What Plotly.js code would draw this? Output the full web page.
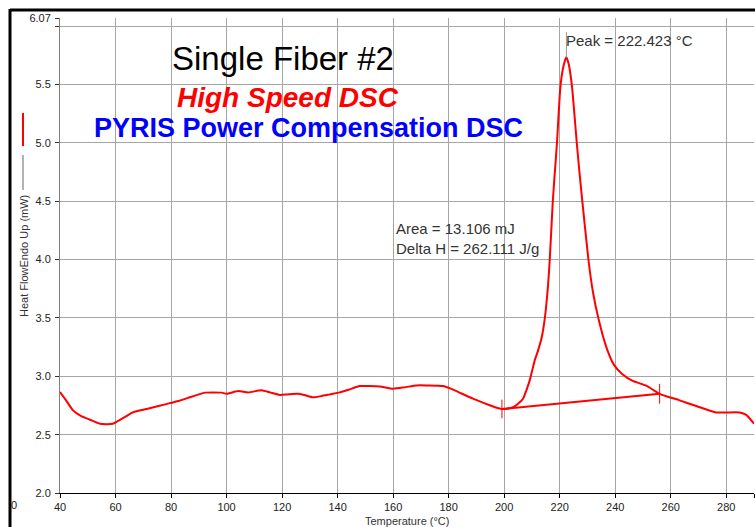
<!DOCTYPE html>
<html>
<head>
<meta charset="utf-8">
<script src="https://cdn.plot.ly/plotly-3.0.1.min.js"></script>
<style>html,body{margin:0;padding:0;background:#fff;}#chart{width:755px;height:527px;}</style>
</head>
<body>
<div id="chart"></div>
<script>
// ---- data ----
var temperature = [40, 42, 44.7, 47.5, 50.8, 54.4, 57, 59, 60.4, 63, 66.4, 71.2, 75.5, 79.6, 83, 86.8, 90, 92.2, 95, 98.2, 100, 104.2, 107.8, 112.6, 115.6, 119.2, 122, 125.8, 128, 131.2, 134, 137.2, 140.8, 144, 148, 151, 155.2, 160, 164, 168.4, 172, 178, 182.8, 185.8, 188.8, 191.2, 194.8, 197, 199.2, 201, 203.2, 205, 206.8, 208, 209.2, 211, 212.2, 213.5, 214.6, 215.6, 216.4, 217.5, 218.2, 219.0, 220.3, 221.4, 222.4, 223.3, 224.4, 226.2, 227.2, 228.2, 230.4, 232, 234, 236.8, 239.5, 242.5, 246.3, 251.2, 256, 263.2, 269.2, 276.4, 280, 284.8, 287.2, 290];
var heatFlow = [2.865, 2.80, 2.708, 2.66, 2.628, 2.594, 2.59, 2.594, 2.61, 2.645, 2.693, 2.72, 2.745, 2.77, 2.79, 2.82, 2.845, 2.86, 2.862, 2.86, 2.85, 2.873, 2.862, 2.88, 2.862, 2.84, 2.845, 2.85, 2.84, 2.82, 2.83, 2.845, 2.862, 2.885, 2.916, 2.916, 2.913, 2.894, 2.905, 2.922, 2.922, 2.916, 2.873, 2.84, 2.808, 2.785, 2.752, 2.733, 2.72, 2.722, 2.736, 2.765, 2.808, 2.88, 2.965, 3.136, 3.22, 3.33, 3.49, 3.72, 3.99, 4.49, 4.73, 4.99, 5.49, 5.66, 5.733, 5.67, 5.49, 4.99, 4.73, 4.49, 3.99, 3.72, 3.49, 3.25, 3.10, 3.02, 2.96, 2.92, 2.85, 2.794, 2.745, 2.69, 2.69, 2.69, 2.67, 2.594];
var baselineT = [199.2, 256];
var baselineHF = [2.72, 2.851];
var startTickT = [199.2, 199.2];
var startTickHF = [2.64, 2.80];
var endTickT = [256, 256];
var endTickHF = [2.765, 2.935];
var peakT = 222.423;
var peakHF = 5.733;
var peakLineTopHF = 5.95;
var xTickVals = [40, 60, 80, 100, 120, 140, 160, 180, 200, 220, 240, 260, 280, 290];
var xTickText = ['40', '60', '80', '100', '120', '140', '160', '180', '200', '220', '240', '260', '280', '290'];
var yTickVals = [2.0, 2.5, 3.0, 3.5, 4.0, 4.5, 5.0, 5.5, 6.0, 6.07];
var yTickText = ['2.0', '2.5', '3.0', '3.5', '4.0', '4.5', '5.0', '5.5', '', '6.07'];

var FONT = 'Arial, "Liberation Sans", sans-serif';
var RED = '#ff0000';

var traces = [
  {x: temperature, y: heatFlow, mode: 'lines', line: {color: RED, width: 2, shape: 'spline', smoothing: 0.6}, hoverinfo: 'skip'},
  {x: baselineT, y: baselineHF, mode: 'lines', line: {color: RED, width: 2}, hoverinfo: 'skip'},
  {x: startTickT, y: startTickHF, mode: 'lines', line: {color: RED, width: 1}, hoverinfo: 'skip'},
  {x: endTickT, y: endTickHF, mode: 'lines', line: {color: RED, width: 1}, hoverinfo: 'skip'},
  {x: [peakT, peakT], y: [peakHF, peakLineTopHF], mode: 'lines', line: {color: '#999999', width: 1}, hoverinfo: 'skip'}
];

function px2x(px) { return (px - 60) / 694; }
function px2y(py) { return (493 - py) / 475; }

var layout = {
  width: 755, height: 527,
  margin: {l: 60, r: 1, t: 18, b: 34, pad: 0},
  paper_bgcolor: '#ffffff', plot_bgcolor: '#ffffff',
  showlegend: false,
  font: {family: FONT, size: 11, color: '#222222'},
  xaxis: {
    range: [40, 290], tickmode: 'array', tickvals: xTickVals, ticktext: xTickText,
    showgrid: true, gridcolor: '#a6a6a6', gridwidth: 1,
    ticks: 'outside', ticklen: 4, tickcolor: '#000000',
    showline: true, linecolor: '#000000', linewidth: 1,
    zeroline: false, tickfont: {family: FONT, size: 11, color: '#222222'}
  },
  yaxis: {
    range: [2.0, 6.07], tickmode: 'array', tickvals: yTickVals, ticktext: yTickText,
    showgrid: true, gridcolor: '#a6a6a6', gridwidth: 1,
    ticks: 'outside', ticklen: 4, tickcolor: '#333333', ticklabelstandoff: 2,
    showline: true, linecolor: '#808080', linewidth: 1,
    zeroline: false, tickfont: {family: FONT, size: 11, color: '#222222'}
  },
  shapes: [
    {type: 'line', xref: 'paper', yref: 'paper', x0: px2x(10), x1: px2x(756), y0: px2y(10), y1: px2y(10), line: {color: '#000000', width: 3}},
    {type: 'line', xref: 'paper', yref: 'paper', x0: px2x(10), x1: px2x(10), y0: px2y(9), y1: px2y(528), line: {color: '#000000', width: 3}},
    {type: 'line', xref: 'paper', yref: 'paper', x0: px2x(23), x1: px2x(23), y0: px2y(113), y1: px2y(146), line: {color: RED, width: 2}},
    {type: 'line', xref: 'paper', yref: 'paper', x0: px2x(23), x1: px2x(23), y0: px2y(155), y1: px2y(190), line: {color: '#666666', width: 1}}
  ],
  annotations: [
    {xref: 'paper', yref: 'paper', x: px2x(170), y: px2y(58), xanchor: 'left', yanchor: 'middle', showarrow: false,
     text: 'Single Fiber #2', font: {family: FONT, size: 33, color: '#000000'}},
    {xref: 'paper', yref: 'paper', x: px2x(175), y: px2y(98), xanchor: 'left', yanchor: 'middle', showarrow: false,
     text: '<b><i>High Speed DSC</i></b>', font: {family: FONT, size: 28, color: RED}},
    {xref: 'paper', yref: 'paper', x: px2x(92), y: px2y(128), xanchor: 'left', yanchor: 'middle', showarrow: false,
     text: '<b>PYRIS Power Compensation DSC</b>', font: {family: FONT, size: 27, color: '#0000ff'}},
    {xref: 'paper', yref: 'paper', x: px2x(564), y: px2y(41), xanchor: 'left', yanchor: 'middle', showarrow: false,
     text: 'Peak = 222.423 °C', font: {family: FONT, size: 15, color: '#333333'}},
    {xref: 'paper', yref: 'paper', x: px2x(394), y: px2y(238.5), xanchor: 'left', yanchor: 'middle', showarrow: false, align: 'left',
     text: 'Area = 13.106 mJ<br>Delta H = 262.111 J/g', font: {family: FONT, size: 15, color: '#333333'}},
    {xref: 'paper', yref: 'paper', x: px2x(24), y: px2y(256), xanchor: 'center', yanchor: 'middle', showarrow: false, textangle: -90,
     text: 'Heat FlowEndo Up (mW)', font: {family: FONT, size: 11, color: '#333333'}},
    {xref: 'paper', yref: 'paper', x: px2x(407), y: px2y(521), xanchor: 'center', yanchor: 'middle', showarrow: false,
     text: 'Temperature (°C)', font: {family: FONT, size: 11, color: '#333333'}},
    {xref: 'paper', yref: 'paper', x: px2x(14), y: px2y(505), xanchor: 'center', yanchor: 'middle', showarrow: false,
     text: '0', font: {family: FONT, size: 11, color: '#222222'}}
  ]
};

Plotly.newPlot('chart', traces, layout, {displayModeBar: false, staticPlot: true});
</script>
</body>
</html>
